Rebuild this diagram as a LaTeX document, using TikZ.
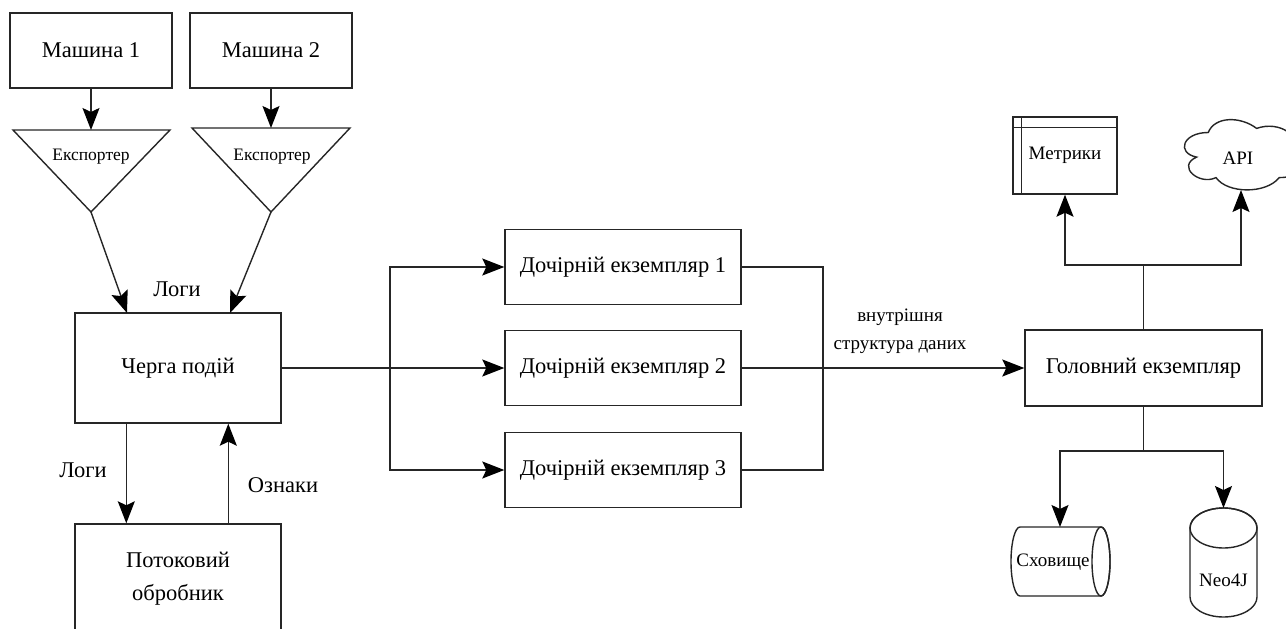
\documentclass[tikz,border=0pt]{standalone}
\usepackage{fontspec}
\setmainfont{Liberation Serif}
\usetikzlibrary{arrows.meta,calc}

\begin{document}
\begin{tikzpicture}[x=1pt,y=-1pt,
  ln/.style={draw=black!85, line width=1.4pt},
  arr/.style={ln, -{Stealth[length=22pt,width=17pt,inset=4pt,color=black]}},
  box/.style={ln, fill=white, inner sep=0pt, align=center,
    font=\fontsize{22.5}{33}\selectfont},
  lbl/.style={inner sep=0pt, font=\fontsize{22.5}{27}\selectfont},
  small/.style={inner sep=0pt, align=center, font=\fontsize{19}{28}\selectfont},
  exp/.style={inner sep=0pt, font=\fontsize{17.5}{21}\selectfont}]

\useasboundingbox (0,0) rectangle (1286,629);

% machines
\node[box, minimum width=162pt, minimum height=75pt] (m1) at (91,50.5) {Машина 1};
\node[box, minimum width=162pt, minimum height=75pt] (m2) at (271,50.5) {Машина 2};

% exporters (inverted triangles)
\coordinate (e1t) at (91,130);
\coordinate (e1a) at (91,212);
\coordinate (e2t) at (271,128);
\coordinate (e2a) at (271,212);
\draw[ln, fill=white] (13,130) -- (170,130) -- (e1a) -- cycle;
\draw[ln, fill=white] (192,128) -- (350,128) -- (e2a) -- cycle;
\node[exp] (e1) at (91,157) {Експортер};
\node[exp] (e2) at (272,157) {Експортер};
\draw[arr] (m1.south) -- (e1t);
\draw[arr] (m2.south) -- (e2t);

% event queue and stream processor
\node[box, minimum width=206pt, minimum height=110pt] (q) at (178,368) {Черга подій};
\node[box, minimum width=206pt, minimum height=110pt] (p) at (178,579) {Потоковий\\обробник};
\coordinate (q1) at (127,313);
\coordinate (q2) at (230,313);
\draw[arr] (e1a) -- (q1);
\draw[arr] (e2a) -- (q2);
\node[lbl] (logs1) at (177,289) {Логи};

\draw[arr] ($(q.south west)+(52,0)$) -- ($(p.north west)+(52,0)$);
\draw[arr] ($(p.north west)+(154,0)$) -- ($(q.south west)+(154,0)$);
\node[lbl] (logs2) at (83,470) {Логи};
\node[lbl] (feat) at (283,485) {Ознаки};

% child instances
\node[box, minimum width=236pt, minimum height=75pt] (c1) at (623,267) {Дочірній екземпляр 1};
\node[box, minimum width=236pt, minimum height=75pt] (c2) at (623,368) {Дочірній екземпляр 2};
\node[box, minimum width=236pt, minimum height=75pt] (c3) at (623,470) {Дочірній екземпляр 3};
\coordinate (split) at (390,368);
\draw[ln] (q.east) -- (split);
\draw[arr] (split) -- (c2.west);
\draw[arr] (split) |- (c1.west);
\draw[arr] (split) |- (c3.west);

% main instance
\node[box, minimum width=237pt, minimum height=76pt] (g) at (1143.5,368) {Головний екземпляр};
\coordinate (merge) at (823,368);
\draw[ln] (c1.east) -| (merge);
\draw[ln] (c3.east) -| (merge);
\draw[arr] (c2.east) -- (g.west);
\node[small] (ids) at (900,331) {внутрішня\\структура даних};

% metrics (internal storage)
\node[ln, fill=white, inner sep=0pt, minimum width=104pt, minimum height=77pt,
  font=\fontsize{19}{23}\selectfont] (met) at (1065,155.5) {Метрики};
\draw[ln] ($(met.north west)+(0,11)$) -- ($(met.north east)+(0,11)$);
\draw[ln] ($(met.north west)+(9,0)$) -- ($(met.south west)+(9,0)$);

% API cloud
\begin{scope}[shift={(1176,112)}, x=129pt, y=-82pt]
  \draw[ln, fill=white] (0.25,0.25) .. controls (0.05,0.25) and (0,0.5) .. (0.16,0.55)
    .. controls (0,0.66) and (0.18,0.9) .. (0.31,0.8)
    .. controls (0.4,1) and (0.7,1) .. (0.8,0.8)
    .. controls (1,0.8) and (1,0.6) .. (0.875,0.5)
    .. controls (1,0.3) and (0.8,0.1) .. (0.625,0.2)
    .. controls (0.5,0.05) and (0.3,0.05) .. (0.25,0.25) -- cycle;
\end{scope}
\node[small] (api) at (1238,158) {API};
\coordinate (apib) at (1241,190);

\coordinate (up) at (1143.5,265);
\draw[ln] (g.north) -- (up);
\draw[arr] (up) -| (met.south);
\draw[arr] (up) -| (apib);

% storage cylinders
\draw[ln, fill=white] (1020,527) -- (1101,527)
  arc[start angle=90, end angle=-90, x radius=9pt, y radius=34.5pt] -- (1020,596)
  arc[start angle=270, end angle=90, x radius=9pt, y radius=34.5pt] -- cycle;
\draw[ln] (1101,561.5) ellipse[x radius=9pt, y radius=34.5pt];
\node[small] (store) at (1053,562) {Сховище};
\coordinate (storet) at (1060,527);

\draw[ln, fill=white] (1190,528) -- (1190,597)
  arc[start angle=180, end angle=360, x radius=33.5pt, y radius=20pt] -- (1257,528)
  arc[start angle=0, end angle=180, x radius=33.5pt, y radius=20pt] -- cycle;
\draw[ln] (1223.5,528) ellipse[x radius=33.5pt, y radius=20pt];
\node[small] (neo) at (1223.5,580) {Neo4J};
\coordinate (neot) at (1223.5,508);

\coordinate (down) at (1143.5,451);
\draw[ln] (g.south) -- (down);
\draw[arr] (down) -| (storet);
\draw[arr] (down) -| (neot);
\end{tikzpicture}
\end{document}
